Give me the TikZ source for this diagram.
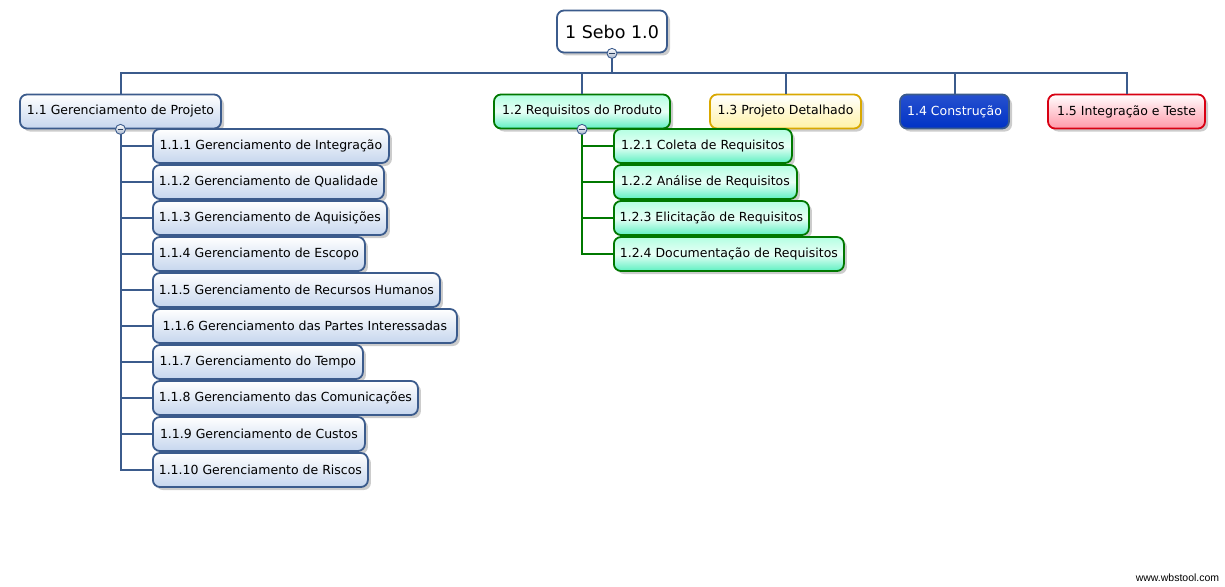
\documentclass[tikz,border=0pt]{standalone}
\usepackage{fontspec}
\setmainfont{DejaVu Sans}
\newfontfamily\markfont{Liberation Sans}
\usetikzlibrary{shadows}

\definecolor{wbsblue}{HTML}{3B5B8C}
\definecolor{wbsbluefill}{HTML}{C6D6EE}
\definecolor{wbsgreen}{HTML}{007800}
\definecolor{wbsmint}{HTML}{5EF0C2}
\definecolor{wbsmintlight}{HTML}{B4FFE2}
\definecolor{wbsgold}{HTML}{D9A800}
\definecolor{wbsyellow}{HTML}{FFF2A6}
\definecolor{wbsred}{HTML}{D80012}
\definecolor{wbspink}{HTML}{FF98A8}
\definecolor{wbsnavy}{HTML}{0032C6}

\begin{document}
\begin{tikzpicture}[x=1pt, y=-1pt,
    box/.style={rectangle, rounded corners=7pt, draw=wbsblue, line width=1.8pt, minimum height=34pt, inner sep=0pt, font=\fontsize{12.5}{15}\selectfont, top color=white, bottom color=wbsbluefill, drop shadow={shadow xshift=3pt, shadow yshift=-3pt, opacity=0.4}},
    leaf/.style={box, anchor=west},
    gleaf/.style={leaf, draw=wbsgreen, top color=wbsmintlight, bottom color=wbsmint, middle color=white!70!wbsmintlight},
    bus/.style={draw=wbsblue, line width=2pt},
    gbus/.style={draw=wbsgreen, line width=2pt},
    collapse/.style={circle, draw=wbsblue, line width=0.9pt, minimum size=10pt, inner sep=0pt, top color=white, bottom color=wbsblue!45, path picture={\draw[wbsblue!70!black, line width=1.3pt] ([xshift=-2.8pt]path picture bounding box.center) -- ([xshift=2.8pt]path picture bounding box.center);}}
]
    \useasboundingbox (0,0) rectangle (1225,586);

    % Root
    \node[box, minimum width=110pt, minimum height=42pt, top color=white, bottom color=white, font=\fontsize{17.5}{20}\selectfont] (root) at (612,31.5) {1 Sebo 1.0};

    % Level 1
    \node[box, minimum width=201pt] (p11) at (120.5,111.5) {1.1 Gerenciamento de Projeto};
    \node[box, minimum width=176pt, draw=wbsgreen, top color=wbsmintlight, bottom color=wbsmint, middle color=white!70!wbsmintlight] (p12) at (582,111.5) {1.2 Requisitos do Produto};
    \node[box, minimum width=151pt, draw=wbsgold, top color=white, bottom color=wbsyellow] (p13) at (785.5,111.5) {1.3 Projeto Detalhado};
    \node[box, minimum width=109pt, draw=wbsblue, top color=wbsnavy!85!white, bottom color=wbsnavy, text=white] (p14) at (954.5,111.5) {1.4 Construção};
    \node[box, minimum width=157pt, draw=wbsred, top color=white, bottom color=wbspink] (p15) at (1126.5,111.5) {1.5 Integração e Teste};

    % 1.1 Gerenciamento de Projeto
    \node[leaf, minimum width=236pt] (g1) at (152,146) {1.1.1 Gerenciamento de Integração};
    \node[leaf, minimum width=231pt] (g2) at (152,182) {1.1.2 Gerenciamento de Qualidade};
    \node[leaf, minimum width=234pt] (g3) at (152,218) {1.1.3 Gerenciamento de Aquisições};
    \node[leaf, minimum width=212pt] (g4) at (152,254) {1.1.4 Gerenciamento de Escopo};
    \node[leaf, minimum width=287pt] (g5) at (152,290) {1.1.5 Gerenciamento de Recursos Humanos};
    \node[leaf, minimum width=304pt] (g6) at (152,326) {1.1.6 Gerenciamento das Partes Interessadas};
    \node[leaf, minimum width=210pt] (g7) at (152,362) {1.1.7 Gerenciamento do Tempo};
    \node[leaf, minimum width=265pt] (g8) at (152,398) {1.1.8 Gerenciamento das Comunicações};
    \node[leaf, minimum width=212pt] (g9) at (152,434) {1.1.9 Gerenciamento de Custos};
    \node[leaf, minimum width=215pt] (g10) at (152,470) {1.1.10 Gerenciamento de Riscos};

    % 1.2 Requisitos do Produto
    \node[gleaf, minimum width=178pt] (r1) at (613,146) {1.2.1 Coleta de Requisitos};
    \node[gleaf, minimum width=183pt] (r2) at (613,182) {1.2.2 Análise de Requisitos};
    \node[gleaf, minimum width=195pt] (r3) at (613,218) {1.2.3 Elicitação de Requisitos};
    \node[gleaf, minimum width=230pt] (r4) at (613,254) {1.2.4 Documentação de Requisitos};

    % connectors
    \draw[bus] (root.south) -- ++(0,20) -| (p11.north);
    \draw[bus] (root.south) -- ++(0,20) -| (p12.north);
    \draw[bus] (root.south) -- ++(0,20) -| (p13.north);
    \draw[bus] (root.south) -- ++(0,20) -| (p14.north);
    \draw[bus] (root.south) -- ++(0,20) -| (p15.north);

    \draw[bus] (p11.south) |- (g1.west);
    \draw[bus] (p11.south) |- (g2.west);
    \draw[bus] (p11.south) |- (g3.west);
    \draw[bus] (p11.south) |- (g4.west);
    \draw[bus] (p11.south) |- (g5.west);
    \draw[bus] (p11.south) |- (g6.west);
    \draw[bus] (p11.south) |- (g7.west);
    \draw[bus] (p11.south) |- (g8.west);
    \draw[bus] (p11.south) |- (g9.west);
    \draw[bus] (p11.south) |- (g10.west);

    \draw[gbus] (p12.south) |- (r1.west);
    \draw[gbus] (p12.south) |- (r2.west);
    \draw[gbus] (p12.south) |- (r3.west);
    \draw[gbus] (p12.south) |- (r4.west);

    % collapse buttons
    \node[collapse] (c0) at (root.south) {};
    \node[collapse] (c11) at (p11.south) {};
    \node[collapse] (c12) at (p12.south) {};

    % watermark
    \node[font=\markfont\fontsize{10.5}{12}\selectfont] (mark) at (1177.5,578) {www.wbstool.com};
\end{tikzpicture}
\end{document}
